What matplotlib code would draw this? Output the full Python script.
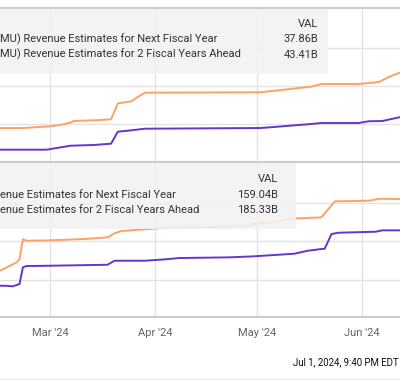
import matplotlib
matplotlib.use("Agg")
import matplotlib.pyplot as plt
import matplotlib.dates as mdates
from matplotlib.patches import Rectangle
import pandas as pd

plt.rcParams['font.family'] = ['Roboto', 'DejaVu Sans']

# ---------------- data ----------------
top_next_dates = ["2024-02-15", "2024-02-29", "2024-03-07", "2024-03-14", "2024-03-19",
                  "2024-03-21", "2024-03-24", "2024-03-29", "2024-05-02", "2024-05-07",
                  "2024-05-17", "2024-05-20", "2024-05-31", "2024-06-03", "2024-06-07",
                  "2024-06-12"]
top_next_vals = [31.62, 31.62, 32.14, 32.24, 32.41, 33.99, 34.12, 34.38, 34.47, 34.64,
                 35.00, 35.13, 35.13, 35.36, 35.39, 35.88]

top_ahead_dates = ["2024-02-15", "2024-02-22", "2024-03-01", "2024-03-04", "2024-03-07",
                   "2024-03-08", "2024-03-16", "2024-03-19", "2024-03-21", "2024-03-25",
                   "2024-03-27", "2024-03-29", "2024-05-02", "2024-05-17", "2024-05-20",
                   "2024-05-31", "2024-06-06", "2024-06-10", "2024-06-12"]
top_ahead_vals = [34.47, 34.47, 34.70, 34.87, 35.17, 35.39, 35.53, 35.62, 37.72, 37.99,
                  38.59, 39.12, 39.17, 39.91, 40.26, 40.26, 40.53, 41.41, 41.71]

bot_next_dates = ["2024-02-15", "2024-02-17", "2024-02-19", "2024-02-21", "2024-02-22",
                  "2024-02-23", "2024-03-01", "2024-03-18", "2024-03-20", "2024-03-29",
                  "2024-04-04", "2024-04-08", "2024-04-23", "2024-04-30", "2024-05-12",
                  "2024-05-16", "2024-05-20", "2024-05-21", "2024-05-23", "2024-05-25",
                  "2024-06-05", "2024-06-07", "2024-06-12"]
bot_next_vals = [115.16, 115.16, 114.69, 116.48, 129.50, 130.51, 130.75, 131.53, 134.65,
                 134.65, 135.74, 136.75, 137.30, 138.07, 140.10, 142.44, 143.76, 144.00,
                 155.46, 156.47, 157.25, 158.34, 158.34]

bot_ahead_dates = ["2024-02-15", "2024-02-20", "2024-02-21", "2024-02-22", "2024-02-23",
                   "2024-03-01", "2024-03-11", "2024-03-18", "2024-03-20", "2024-03-22",
                   "2024-03-29", "2024-04-04", "2024-04-14", "2024-04-29", "2024-04-30",
                   "2024-05-07", "2024-05-10", "2024-05-20", "2024-05-24", "2024-06-03",
                   "2024-06-06", "2024-06-12"]
bot_ahead_vals = [126.62, 133.09, 135.74, 151.56, 150.23, 150.55, 151.56, 152.88, 156.00,
                  157.79, 159.12, 160.37, 160.68, 161.69, 163.25, 164.81, 167.38, 168.47,
                  180.94, 181.41, 182.97, 182.74]

top_legend_labels = ["MU) Revenue Estimates for Next Fiscal Year",
                     "MU) Revenue Estimates for 2 Fiscal Years Ahead"]
top_legend_values = ["37.86B", "43.41B"]
bot_legend_labels = ["enue Estimates for Next Fiscal Year",
                     "enue Estimates for 2 Fiscal Years Ahead"]
bot_legend_values = ["159.04B", "185.33B"]
tick_labels = ["Mar '24", "Apr '24", "May '24", "Jun '24"]
tick_dates = ["2024-03-01", "2024-04-01", "2024-05-01", "2024-06-01"]
timestamp = "Jul 1, 2024, 9:40 PM EDT"

# ---------------- style ----------------
W, H = 400, 380
ORANGE = "#ffa066"
PURPLE = "#6634cf"
GRID = "#e3e3e3"
BORDER = "#cccccc"
TXT = "#333333"
FS = 8.0

fig = plt.figure(figsize=(4.0, 3.8), dpi=100)

def fy(y):
    return 1 - y / H

x0 = pd.Timestamp("2024-02-15 06:00")
x1 = pd.Timestamp("2024-06-12 05:00")

ax_top = fig.add_axes([0, fy(162), 1, (162 - 8) / H])
ax_bot = fig.add_axes([0, fy(317), 1, (317 - 162) / H])

panels = [
    (ax_top, top_next_dates, top_next_vals, top_ahead_dates, top_ahead_vals, (30, 50.26), [35, 40, 45]),
    (ax_bot, bot_next_dates, bot_next_vals, bot_ahead_dates, bot_ahead_vals, (90.8, 211.6), [120, 150, 180]),
]
for ax, nd, nv, ad, av, yl, yt in panels:
    ax.set_facecolor("none")
    ax.plot(pd.to_datetime(ad), av, color=ORANGE, lw=1.4, solid_joinstyle="round", zorder=3)
    ax.plot(pd.to_datetime(nd), nv, color=PURPLE, lw=1.4, solid_joinstyle="round", zorder=3)
    ax.set_xlim(x0, x1)
    ax.set_ylim(*yl)
    ax.set_yticks(yt)
    ax.set_xticks(pd.to_datetime(tick_dates))
    ax.grid(True, color=GRID, lw=1.0, zorder=0)
    ax.tick_params(length=0, labelleft=False, labelbottom=False)
    for s in ["left", "right", "top", "bottom"]:
        ax.spines[s].set_visible(False)

ax_bot.set_xticklabels(tick_labels)
ax_bot.tick_params(labelbottom=True, labelsize=FS, labelcolor="#666666", pad=8)

# horizontal frame lines
for y, lw, c in [(7.5, 1.5, BORDER), (162.5, 1.5, BORDER), (317, 1.5, BORDER), (379, 1.0, "#e6e6e6")]:
    fig.add_artist(plt.Line2D([0, 1], [fy(y), fy(y)], color=c, lw=lw, transform=fig.transFigure, zorder=5))

# legend boxes
def legend(top, bottom, right, val_x, ys, labels, values):
    fig.add_artist(Rectangle((0, fy(bottom)), right / W, (bottom - top) / H,
                             transform=fig.transFigure, facecolor="#f2f2f2", alpha=0.88,
                             edgecolor="none", zorder=4))
    fig.text(val_x / W, fy(ys[0]), "VAL", ha="right", va="center", fontsize=FS, color=TXT, zorder=6)
    for y, lab, v in zip(ys[1:], labels, values):
        fig.text(0 / W, fy(y), lab, ha="left", va="center", fontsize=FS, color=TXT, zorder=6)
        fig.text(val_x / W, fy(y), v, ha="right", va="center", fontsize=FS, color=TXT, zorder=6)

legend(8.5, 74, 328, 318.5, [24, 39.5, 54.5], top_legend_labels, top_legend_values)
legend(163, 229, 296, 278, [179, 194.5, 210], bot_legend_labels, bot_legend_values)

fig.text(399 / W, fy(362), timestamp, ha="right", va="center", fontsize=6.9, color="#111111")

fig.savefig("out.png", dpi=100)
